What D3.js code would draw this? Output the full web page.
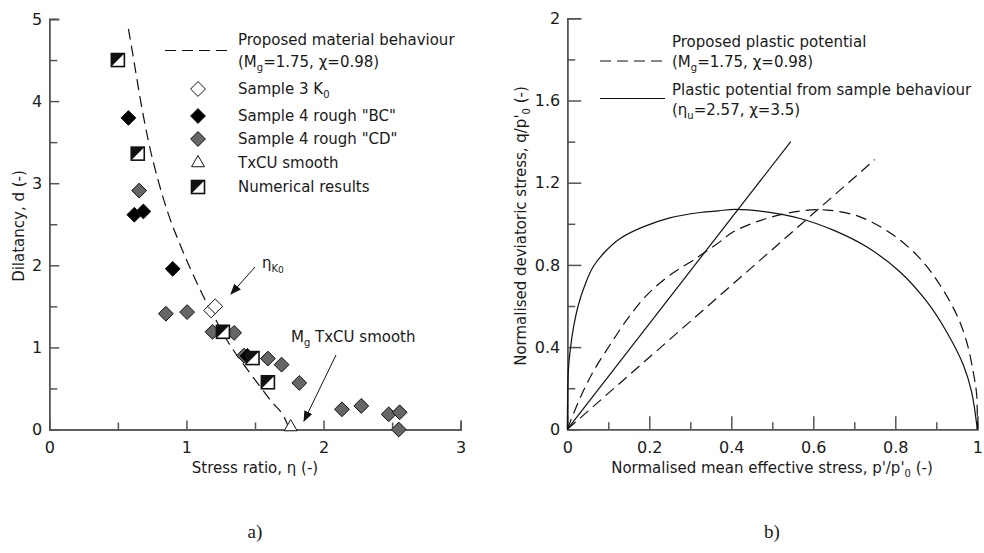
<!DOCTYPE html>
<html lang="en">

<head>
    <meta charset="UTF-8">
    <script src="https://d3js.org/d3.v7.min.js"></script>
    <title>Dilatancy and plastic potential</title>
    <style>
        body {
            margin: 0;
            padding: 0;
            background-color: #fff;
        }

        text {
            font-family: "DejaVu Sans", sans-serif;
            fill: #1a1a1a;
        }

        .tick text {
            font-size: 16px;
        }

        .axis path,
        .axis line {
            stroke: #555;
            stroke-width: 1.5;
        }

        .lbl {
            font-size: 15px;
        }

        .panel {
            font-family: "Liberation Serif", serif;
            font-size: 19px;
        }
    </style>
</head>

<body>
    <div id="box"></div>

    <script>
        // a) dilatancy vs stress ratio
        const numEta = [0.50, 0.645, 1.266, 1.482, 1.594]
        const numD = [4.50, 3.36, 1.19, 0.87, 0.575]
        const bcEta = [0.577, 0.62, 0.686, 0.90, 1.445]
        const bcD = [3.795, 2.616, 2.656, 1.957, 0.896]
        const cdEta = [0.655, 0.85, 1.005, 1.19, 1.348, 1.42, 1.594, 1.694, 1.823, 2.134, 2.275, 2.475, 2.555, 2.548]
        const cdD = [2.91, 1.41, 1.43, 1.19, 1.177, 0.90, 0.864, 0.79, 0.567, 0.246, 0.287, 0.185, 0.21, 0.0]
        const k0Eta = [1.18, 1.21]
        const k0D = [1.45, 1.50]
        const txEta = [1.76]
        const txD = [0.03]
        const propEta = [0.577, 0.613, 0.662, 0.723, 0.796, 0.869, 0.954, 1.039, 1.124, 1.20, 1.295, 1.465, 1.611, 1.733, 1.75]
        const propD = [4.88, 4.53, 4.04, 3.51, 3.02, 2.62, 2.25, 1.92, 1.62, 1.38, 1.09, 0.685, 0.36, 0.076, 0.0]

        // b) plastic potentials
        const solidP = [0, 0.0024, 0.0066, 0.0147, 0.027, 0.043, 0.063, 0.092, 0.129, 0.185, 0.25, 0.324, 0.368, 0.409, 0.486, 0.568, 0.649, 0.73, 0.811, 0.877, 0.925, 0.966, 0.986, 1.0]
        const solidQ = [0, 0.28, 0.377, 0.491, 0.605, 0.702, 0.791, 0.864, 0.929, 0.985, 1.029, 1.055, 1.063, 1.07, 1.058, 1.026, 0.969, 0.888, 0.767, 0.621, 0.475, 0.313, 0.183, 0]
        const dashP = [0, 0.031, 0.063, 0.104, 0.145, 0.194, 0.25, 0.307, 0.372, 0.405, 0.486, 0.568, 0.633, 0.714, 0.795, 0.86, 0.909, 0.95, 0.974, 0.99, 0.9985, 1.0]
        const dashQ = [0, 0.151, 0.28, 0.41, 0.532, 0.653, 0.75, 0.823, 0.912, 0.961, 1.026, 1.062, 1.067, 1.034, 0.945, 0.832, 0.702, 0.556, 0.426, 0.28, 0.167, 0]
        const mgLineP = [0, 0.75]
        const mgLineQ = [0, 1.3125]
        const etaLineP = [0, 0.545]
        const etaLineQ = [0, 1.40]

        let svg = d3.select("#box").append("svg")
            .attr("width", 984)
            .attr("height", 553)

        let defs = svg.append("defs")
        defs.append("marker").attr("id", "arr")
            .attr("viewBox", "0 0 10 10").attr("refX", 9).attr("refY", 5)
            .attr("markerWidth", 11).attr("markerHeight", 11).attr("markerUnits", "userSpaceOnUse")
            .attr("orient", "auto")
            .append("path").attr("d", "M0,1 L10,5 L0,9 Z").attr("fill", "#111")

        let zip = (a, b) => a.map((v, i) => [v, b[i]])

        // ---------- left panel ----------
        let xL = d3.scaleLinear().domain([0, 3]).range([49.3, 460.7])
        let yL = d3.scaleLinear().domain([0, 5]).range([429.5, 19])

        let gL = svg.append("g")

        gL.append("g").attr("class", "axis").attr("transform", "translate(0," + yL(0) + ")")
            .call(d3.axisBottom(xL).tickValues([0.5, 1.5, 2.5]).tickSize(-7).tickFormat(""))
        gL.append("g").attr("class", "axis").attr("transform", "translate(0," + yL(0) + ")")
            .call(d3.axisBottom(xL).tickValues([0, 1, 2, 3]).tickSize(-9).tickPadding(12).tickFormat(d3.format("d")))
        gL.append("g").attr("class", "axis").attr("transform", "translate(" + xL(0) + ",0)")
            .call(d3.axisLeft(yL).tickValues([0.5, 1.5, 2.5, 3.5, 4.5]).tickSize(-8).tickFormat(""))
        gL.append("g").attr("class", "axis").attr("transform", "translate(" + xL(0) + ",0)")
            .call(d3.axisLeft(yL).tickValues([0, 1, 2, 3, 4, 5]).tickSize(-10).tickPadding(7).tickFormat(d3.format("d")))
        gL.selectAll(".tick line").filter(d => d === 0).remove()

        gL.append("text").attr("class", "lbl").attr("x", 255).attr("y", 473).attr("text-anchor", "middle")
            .text("Stress ratio, η (-)")
        gL.append("text").attr("class", "lbl").attr("text-anchor", "middle")
            .attr("transform", "translate(24,226) rotate(-90)")
            .text("Dilatancy, d (-)")

        let lineL = d3.line().x(d => xL(d[0])).y(d => yL(d[1])).curve(d3.curveMonotoneX)
        gL.append("path").attr("d", lineL(zip(propEta, propD)))
            .attr("fill", "none").attr("stroke", "#111").attr("stroke-width", 1.2).attr("stroke-dasharray", "11,6")

        let diamond = d3.symbol().type(d3.symbolDiamond2).size(140)
        let tri = d3.symbol().type(d3.symbolTriangle2).size(120)

        function diamonds(xs, ys, fill) {
            gL.append("g").selectAll("path").data(zip(xs, ys)).enter().append("path")
                .attr("d", diamond)
                .attr("transform", d => "translate(" + xL(d[0]) + "," + yL(d[1]) + ")")
                .attr("fill", fill).attr("stroke", "#111").attr("stroke-width", 1)
        }

        function halfSquare(g, cx, cy) {
            let s = 6.5
            g.append("rect").attr("x", cx - s).attr("y", cy - s).attr("width", 2 * s).attr("height", 2 * s)
                .attr("fill", "#fff").attr("stroke", "#111").attr("stroke-width", 1.6)
            g.append("path").attr("d", "M" + (cx - s) + "," + (cy - s) + "L" + (cx + s) + "," + (cy - s) + "L" + (cx - s) + "," + (cy + s) + "Z")
                .attr("fill", "#111")
        }

        diamonds(cdEta, cdD, "#666")
        diamonds(bcEta, bcD, "#000")
        diamonds(k0Eta, k0D, "#fff")

        gL.append("g").selectAll("path").data(zip(txEta, txD)).enter().append("path")
            .attr("d", tri)
            .attr("transform", d => "translate(" + xL(d[0]) + "," + yL(d[1]) + ")")
            .attr("fill", "#fff").attr("stroke", "#111").attr("stroke-width", 1)

        let numG = gL.append("g")
        numEta.forEach((v, i) => halfSquare(numG, xL(v), yL(numD[i])))

        // annotations
        gL.append("line").attr("x1", 255).attr("y1", 267).attr("x2", 231).attr("y2", 294)
            .attr("stroke", "#111").attr("stroke-width", 1).attr("marker-end", "url(#arr)")
        let ek = gL.append("text").attr("class", "lbl").attr("x", 262).attr("y", 268)
        ek.append("tspan").text("η")
        ek.append("tspan").attr("font-size", "10px").attr("dy", 4).text("K")
        ek.append("tspan").attr("font-size", "9px").attr("dy", 1).text("0")

        gL.append("line").attr("x1", 336).attr("y1", 355).attr("x2", 304).attr("y2", 421)
            .attr("stroke", "#111").attr("stroke-width", 1).attr("marker-end", "url(#arr)")
        let mt = gL.append("text").attr("class", "lbl").attr("x", 291).attr("y", 342)
        mt.append("tspan").text("M")
        mt.append("tspan").attr("font-size", "10px").attr("dy", 4).text("g")
        mt.append("tspan").attr("dy", -4).text(" TxCU smooth")

        // legend left
        let lgL = gL.append("g")
        lgL.append("line").attr("x1", 165).attr("x2", 231).attr("y1", 50.5).attr("y2", 50.5)
            .attr("stroke", "#111").attr("stroke-width", 1.2).attr("stroke-dasharray", "11,6")
        lgL.append("text").attr("class", "lbl").attr("x", 238).attr("y", 45).text("Proposed material behaviour")
        let l2 = lgL.append("text").attr("class", "lbl").attr("x", 238).attr("y", 67)
        l2.append("tspan").text("(M")
        l2.append("tspan").attr("font-size", "10px").attr("dy", 4).text("g")
        l2.append("tspan").attr("dy", -4).text("=1.75, χ=0.98)")

        let legRows = [
            { y: 89, type: "dia", fill: "#fff", txt: "Sample 3 K", sub: "0" },
            { y: 116, type: "dia", fill: "#000", txt: "Sample 4 rough \"BC\"" },
            { y: 139, type: "dia", fill: "#666", txt: "Sample 4 rough \"CD\"" },
            { y: 163, type: "tri", txt: "TxCU smooth" },
            { y: 187, type: "num", txt: "Numerical results" }
        ]
        legRows.forEach(r => {
            if (r.type === "dia") {
                lgL.append("path").attr("d", diamond).attr("transform", "translate(198," + r.y + ")")
                    .attr("fill", r.fill).attr("stroke", "#111").attr("stroke-width", 1)
            } else if (r.type === "tri") {
                lgL.append("path").attr("d", tri).attr("transform", "translate(198," + r.y + ")")
                    .attr("fill", "#fff").attr("stroke", "#111").attr("stroke-width", 1)
            } else {
                halfSquare(lgL, 198, r.y)
            }
            let t = lgL.append("text").attr("class", "lbl").attr("x", 238).attr("y", r.y + 5)
            t.append("tspan").text(r.txt)
            if (r.sub) t.append("tspan").attr("font-size", "10px").attr("dy", 4).text(r.sub)
        })

        // ---------- right panel ----------
        let xR = d3.scaleLinear().domain([0, 1]).range([567.3, 977.3])
        let yR = d3.scaleLinear().domain([0, 2]).range([429.3, 18.3])

        let gR = svg.append("g")
        gR.append("g").attr("class", "axis").attr("transform", "translate(0," + yR(0) + ")")
            .call(d3.axisBottom(xR).tickValues([0.1, 0.3, 0.5, 0.7, 0.9]).tickSize(-7).tickFormat(""))
        gR.append("g").attr("class", "axis").attr("transform", "translate(0," + yR(0) + ")")
            .call(d3.axisBottom(xR).tickValues([0, 0.2, 0.4, 0.6, 0.8, 1]).tickSize(-13).tickPadding(12).tickFormat(d => d === 0 || d === 1 ? d : d3.format(".1f")(d)))
        gR.append("g").attr("class", "axis").attr("transform", "translate(" + xR(0) + ",0)")
            .call(d3.axisLeft(yR).tickValues([0.2, 0.6, 1.0, 1.4, 1.8]).tickSize(-8).tickFormat(""))
        gR.append("g").attr("class", "axis").attr("transform", "translate(" + xR(0) + ",0)")
            .call(d3.axisLeft(yR).tickValues([0, 0.4, 0.8, 1.2, 1.6, 2]).tickSize(-14).tickPadding(7).tickFormat(d => d === 0 || d === 2 ? d : d3.format(".1f")(d)))
        gR.selectAll(".tick line").filter(d => d === 0).remove()

        let xt = gR.append("text").attr("class", "lbl").attr("x", 772).attr("y", 473).attr("text-anchor", "middle")
        xt.append("tspan").text("Normalised mean effective stress, p'/p'")
        xt.append("tspan").attr("font-size", "10px").attr("dy", 4).text("0")
        xt.append("tspan").attr("dy", -4).text(" (-)")

        let yt = gR.append("text").attr("class", "lbl").attr("text-anchor", "middle")
            .attr("transform", "translate(526,226) rotate(-90)")
        yt.append("tspan").text("Normalised deviatoric stress,  q/p'")
        yt.append("tspan").attr("font-size", "10px").attr("dy", 4).text("0")
        yt.append("tspan").attr("dy", -4).text(" (-)")

        let lineR = d3.line().x(d => xR(d[0])).y(d => yR(d[1])).curve(d3.curveCatmullRom.alpha(0.5))
        let straight = d3.line().x(d => xR(d[0])).y(d => yR(d[1]))

        gR.append("path").attr("d", lineR(zip(solidP, solidQ)))
            .attr("fill", "none").attr("stroke", "#111").attr("stroke-width", 1.2)
        gR.append("path").attr("d", lineR(zip(dashP, dashQ)))
            .attr("fill", "none").attr("stroke", "#111").attr("stroke-width", 1.2).attr("stroke-dasharray", "11,6")
        gR.append("path").attr("d", straight(zip(etaLineP, etaLineQ)))
            .attr("fill", "none").attr("stroke", "#111").attr("stroke-width", 1.2)
        gR.append("path").attr("d", straight(zip(mgLineP, mgLineQ)))
            .attr("fill", "none").attr("stroke", "#111").attr("stroke-width", 1.2).attr("stroke-dasharray", "11,6")

        // legend right
        let lgR = gR.append("g")
        lgR.append("line").attr("x1", 600).attr("x2", 665).attr("y1", 61).attr("y2", 61)
            .attr("stroke", "#111").attr("stroke-width", 1.2).attr("stroke-dasharray", "11,6")
        lgR.append("text").attr("class", "lbl").attr("x", 672).attr("y", 47).text("Proposed plastic potential")
        let r2 = lgR.append("text").attr("class", "lbl").attr("x", 672).attr("y", 67)
        r2.append("tspan").text("(M")
        r2.append("tspan").attr("font-size", "10px").attr("dy", 4).text("g")
        r2.append("tspan").attr("dy", -4).text("=1.75, χ=0.98)")
        lgR.append("line").attr("x1", 600).attr("x2", 665).attr("y1", 98.5).attr("y2", 98.5)
            .attr("stroke", "#111").attr("stroke-width", 1.2)
        lgR.append("text").attr("class", "lbl").attr("x", 672).attr("y", 95).text("Plastic potential from sample behaviour")
        let r4 = lgR.append("text").attr("class", "lbl").attr("x", 672).attr("y", 115)
        r4.append("tspan").text("(η")
        r4.append("tspan").attr("font-size", "10px").attr("dy", 4).text("u")
        r4.append("tspan").attr("dy", -4).text("=2.57, χ=3.5)")

        // panel labels
        svg.append("text").attr("class", "panel").attr("x", 255).attr("y", 538).attr("text-anchor", "middle").text("a)")
        svg.append("text").attr("class", "panel").attr("x", 772).attr("y", 538).attr("text-anchor", "middle").text("b)")
    </script>
</body>

</html>
